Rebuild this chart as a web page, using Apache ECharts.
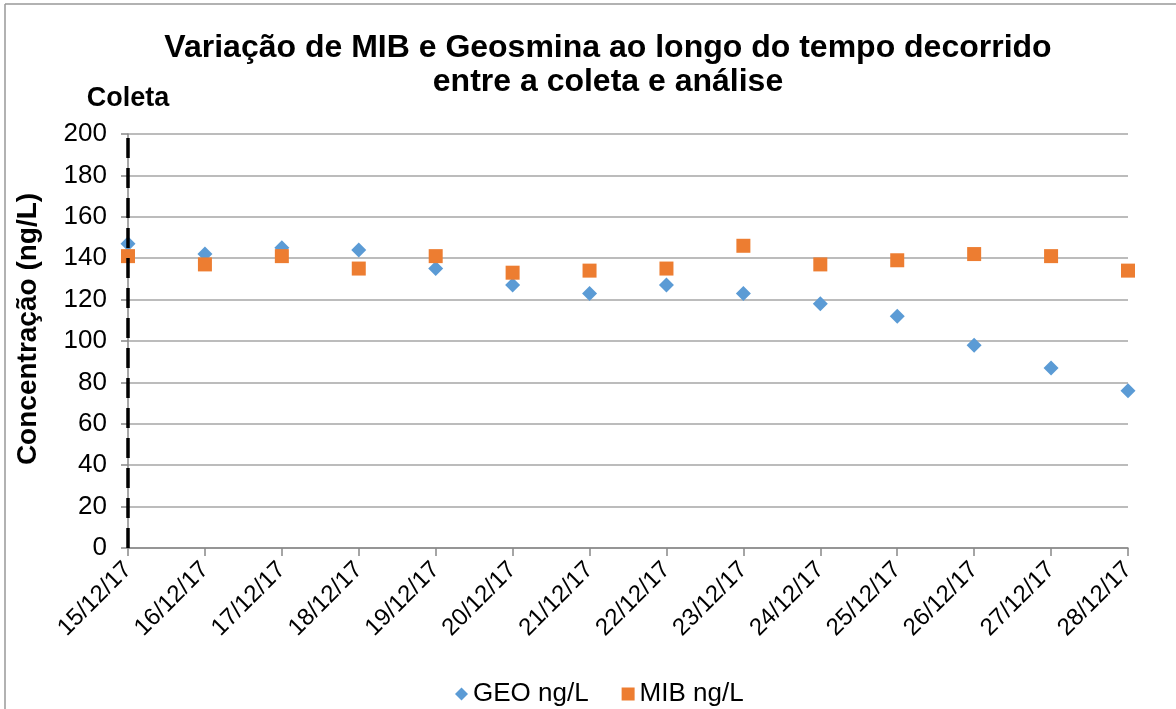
<!DOCTYPE html>
<html>
<head>
<meta charset="utf-8">
<script src="https://cdn.jsdelivr.net/npm/echarts@6/dist/echarts.min.js"></script>
<style>
  html, body { margin: 0; padding: 0; background: #fff; }
  #chart { width: 1176px; height: 709px; }
</style>
</head>
<body>
<div id="chart"></div>
<script>
var dates = ['15/12/17', '16/12/17', '17/12/17', '18/12/17', '19/12/17', '20/12/17', '21/12/17',
  '22/12/17', '23/12/17', '24/12/17', '25/12/17', '26/12/17', '27/12/17', '28/12/17'];
var geo = [147, 142, 145, 144, 135, 127, 123, 127, 123, 118, 112, 98, 87, 76];
var mib = [141, 137, 141, 135, 141, 133, 134, 135, 146, 137, 139, 142, 141, 134];
var coletaDate = '15/12/17';

var font = '"Liberation Sans", Arial, sans-serif';

var chartDom = document.getElementById('chart');
var myChart = echarts.init(chartDom);

var option = {
  backgroundColor: '#fff',
  textStyle: { fontFamily: font },
  title: {
    text: 'Variação de MIB e Geosmina ao longo do tempo decorrido\nentre a coleta e análise',
    left: 603,
    textAlign: 'center',
    top: 26,
    textStyle: {
      fontFamily: font,
      fontSize: 32,
      fontWeight: 'bold',
      color: '#000',
      lineHeight: 34
    }
  },
  graphic: [
    { type: 'line', shape: { x1: 5, y1: 4, x2: 1176, y2: 4 }, style: { stroke: '#999', lineWidth: 1.5 } },
    { type: 'line', shape: { x1: 5, y1: 4, x2: 5, y2: 709 }, style: { stroke: '#999', lineWidth: 1.5 } }
  ],
  legend: {
    data: ['GEO ng/L', 'MIB ng/L'],
    top: 676,
    left: 450,
    itemGap: 33,
    itemWidth: 13,
    itemHeight: 13,
    textStyle: { fontFamily: font, fontSize: 26, color: '#000' }
  },
  grid: { left: 128, right: 48, top: 134, bottom: 161 },
  xAxis: {
    type: 'category',
    data: dates,
    boundaryGap: false,
    axisLine: { lineStyle: { color: '#888', width: 1.5 } },
    axisTick: { show: true, length: 8, lineStyle: { color: '#888', width: 1.5 } },
    axisLabel: { rotate: 45, fontSize: 24, color: '#000', margin: 18, fontFamily: font }
  },
  yAxis: {
    type: 'value',
    min: 0,
    max: 200,
    interval: 20,
    name: 'Concentração (ng/L)',
    nameLocation: 'middle',
    nameGap: 86,
    nameTextStyle: { fontSize: 28, fontWeight: 'bold', color: '#000', fontFamily: font, padding: [0, 0, 0, 24] },
    axisLine: { show: true, lineStyle: { color: '#888', width: 1.5 } },
    axisTick: { show: true, length: 7, lineStyle: { color: '#888', width: 1.5 } },
    axisLabel: { fontSize: 26, color: '#000', margin: 21, fontFamily: font },
    splitLine: { lineStyle: { color: '#a6a6a6', width: 1.5 } }
  },
  series: [
    {
      name: 'GEO ng/L',
      type: 'scatter',
      data: geo,
      symbol: 'diamond',
      symbolSize: 15,
      itemStyle: { color: '#5b9bd5', opacity: 1 },
      z: 2
    },
    {
      name: 'MIB ng/L',
      type: 'scatter',
      data: mib,
      symbol: 'rect',
      symbolSize: 14,
      itemStyle: { color: '#ed7d31', opacity: 1 },
      z: 3
    },
    {
      name: 'Coleta',
      type: 'line',
      data: [],
      z: 5,
      markLine: {
        silent: true,
        symbol: 'none',
        animation: false,
        lineStyle: { color: '#000', width: 3.5, type: [20, 10] },
        label: {
          show: true,
          position: 'end',
          formatter: 'Coleta',
          distance: 22,
          fontSize: 27,
          fontWeight: 'bold',
          color: '#000',
          fontFamily: font
        },
        data: [{ xAxis: coletaDate }]
      }
    }
  ]
};

myChart.setOption(option);
window.addEventListener('resize', () => myChart.resize());
</script>
</body>
</html>
